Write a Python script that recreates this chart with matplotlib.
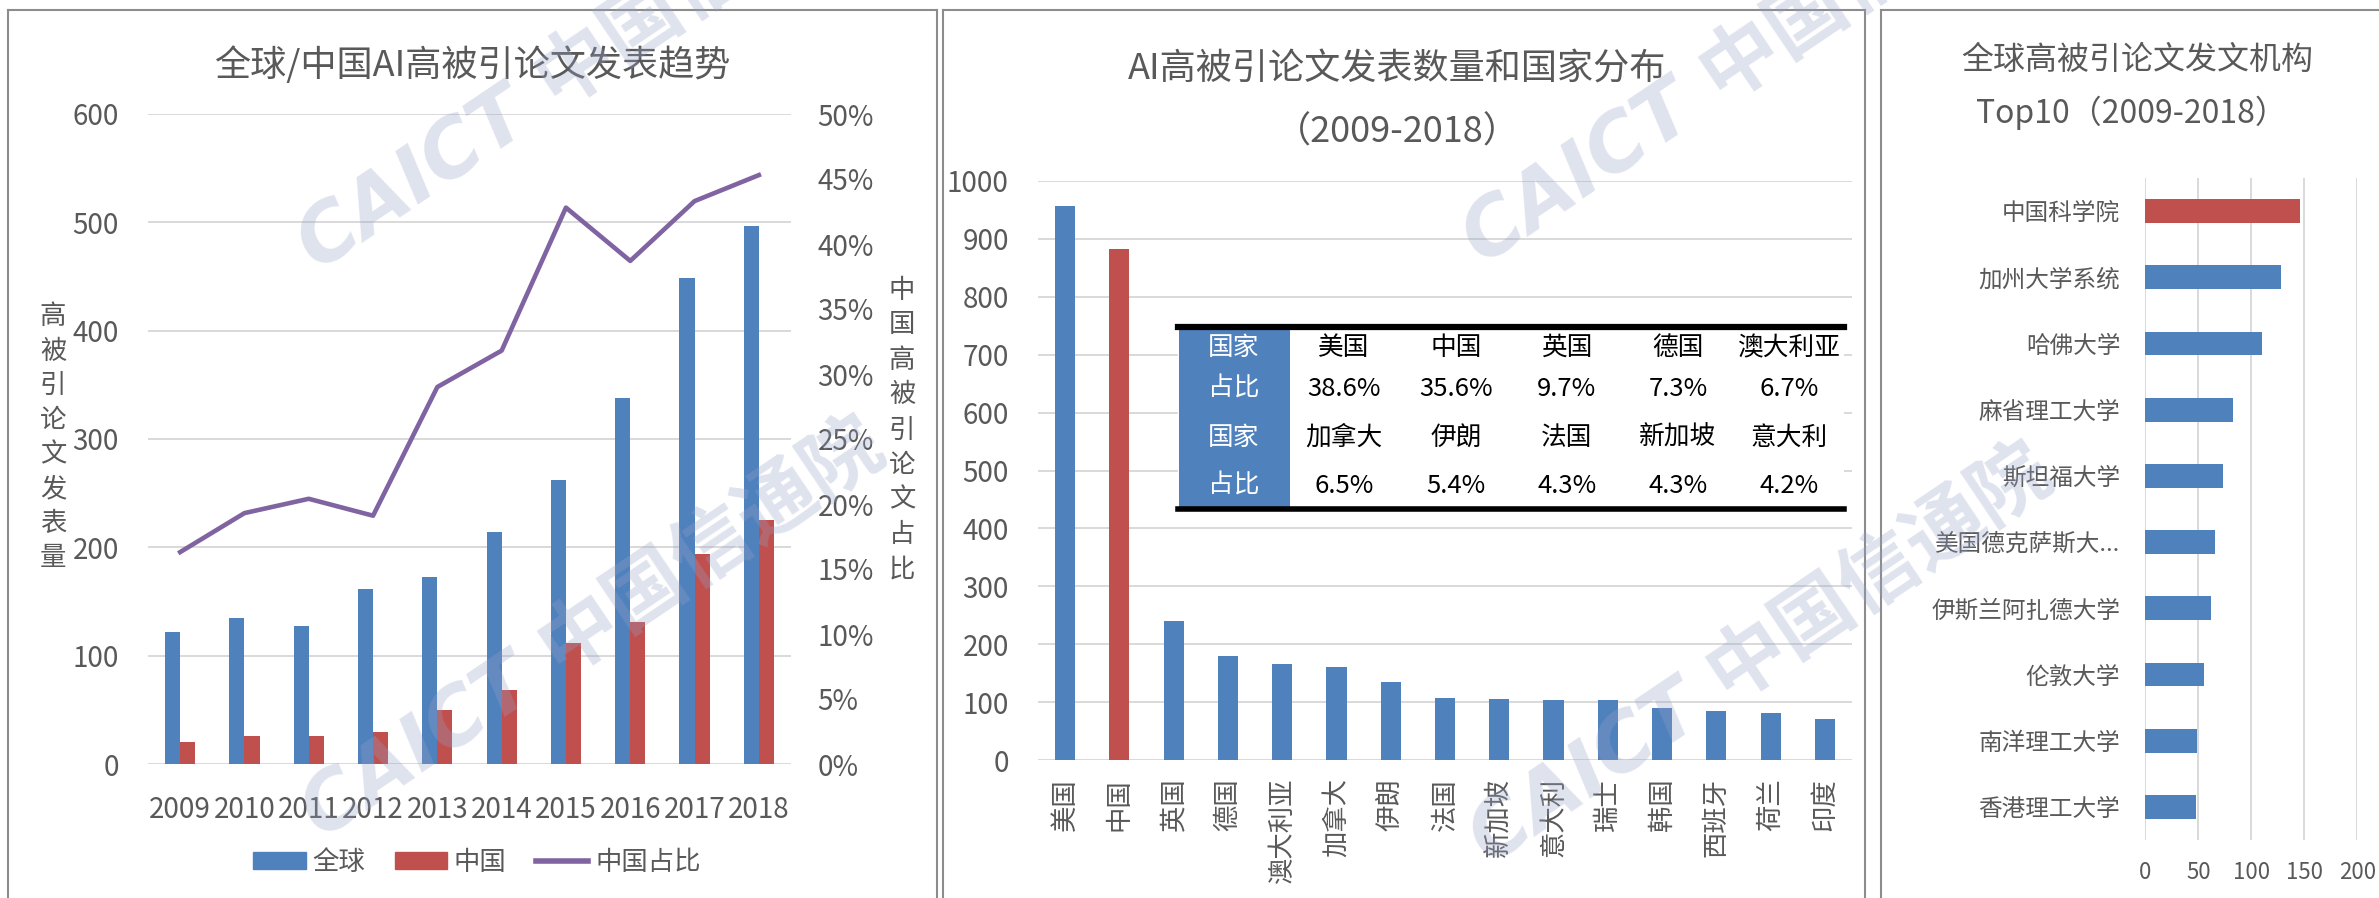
import numpy as np
import matplotlib
matplotlib.use("Agg")
import matplotlib.pyplot as plt
from matplotlib.lines import Line2D
from matplotlib.patches import Rectangle, Patch

plt.rcParams['font.family'] = ['Noto Sans CJK SC', 'DejaVu Sans']

## panel 1: global / china trend
years = ["2009", "2010", "2011", "2012", "2013", "2014", "2015", "2016", "2017", "2018"]
global_counts = [122, 135, 127, 162, 173, 214, 262, 338, 449, 497]
china_counts = [20, 26, 26, 30, 50, 68, 112, 131, 194, 225]
china_share = [0.163, 0.193, 0.204, 0.191, 0.290, 0.318, 0.428, 0.387, 0.433, 0.453]

## panel 2: countries
countries = ["美国", "中国", "英国", "德国", "澳大利亚", "加拿大", "伊朗", "法国",
             "新加坡", "意大利", "瑞士", "韩国", "西班牙", "荷兰", "印度"]
country_counts = [957, 883, 240, 180, 166, 161, 134, 107, 106, 103, 103, 90, 85, 82, 71]
table_countries = ["美国", "中国", "英国", "德国", "澳大利亚",
                   "加拿大", "伊朗", "法国", "新加坡", "意大利"]
table_shares = ["38.6%", "35.6%", "9.7%", "7.3%", "6.7%",
                "6.5%", "5.4%", "4.3%", "4.3%", "4.2%"]

## panel 3: institutions
institutions = ["中国科学院", "加州大学系统", "哈佛大学", "麻省理工大学", "斯坦福大学",
                "美国德克萨斯大...", "伊斯兰阿扎德大学", "伦敦大学", "南洋理工大学", "香港理工大学"]
inst_counts = [146, 128, 110, 83, 73, 66, 62, 55, 49, 48]

BLUE = "#4F81BD"
RED = "#C0504D"
PURPLE = "#8064A2"
GRID = "#D9D9D9"
TXT = "#595959"

W, H = 2379, 898
fig = plt.figure(figsize=(W / 100, H / 100), dpi=100)


def rect(x0, y0, x1, y1):
    # pixel box (top-left origin) -> figure fraction
    return [x0 / W, 1 - y1 / H, (x1 - x0) / W, (y1 - y0) / H]


def fpt(x, y):
    return x / W, 1 - y / H


def clean(ax):
    for s in ax.spines.values():
        s.set_visible(False)
    ax.tick_params(length=0, colors=TXT)


# ---------------- panel 1 ----------------
ax1 = fig.add_axes(rect(148, 114, 791, 764))
clean(ax1)
x = np.arange(len(years))
bw = 0.235
b1 = ax1.bar(x - bw / 2, global_counts, bw, color=BLUE, zorder=2)
b2 = ax1.bar(x + bw / 2, china_counts, bw, color=RED, zorder=2)
ax1.set_xlim(-0.5, len(years) - 0.5)
ax1.set_ylim(0, 600)
ax1.set_yticks(range(0, 601, 100))
ax1.yaxis.grid(True, color=GRID, lw=1.4)
ax1.set_axisbelow(True)
ax1.set_xticks(x)
ax1.set_xticklabels(years)
ax1.tick_params(axis='y', labelsize=20, pad=21)
ax1.tick_params(axis='x', labelsize=20, pad=22)

ax1b = ax1.twinx()
clean(ax1b)
ln, = ax1b.plot(x, china_share, color=PURPLE, lw=3.3, solid_joinstyle='round')
ax1b.set_ylim(0, 0.5)
pt = np.arange(0, 0.501, 0.05)
ax1b.set_yticks(pt)
ax1b.set_yticklabels(["{}%".format(int(round(v * 100))) for v in pt])
ax1b.tick_params(axis='y', labelsize=20, pad=19)

leg = ax1b.legend([Patch(color=BLUE), Patch(color=RED), Line2D([], [], color=PURPLE, lw=4)],
                  ["全球", "中国", "中国占比"], ncol=3, frameon=False, loc='center',
                  bbox_to_anchor=fpt(477, 862), bbox_transform=fig.transFigure,
                  fontsize=19, handlelength=2.0, handleheight=0.6, handletextpad=0.25,
                  columnspacing=1.1)
for t in leg.get_texts():
    t.set_color(TXT)

fig.text(*fpt(472, 65), "全球/中国AI高被引论文发表趋势", fontsize=26, color=TXT,
         ha='center', va='center')
for i, ch in enumerate("高被引论文发表量"):
    fig.text(*fpt(53, 317 + i * 34.4), ch, fontsize=19, color=TXT, ha='center', va='center')
for i, ch in enumerate("中国高被引论文占比"):
    fig.text(*fpt(902, 290 + i * 35), ch, fontsize=19, color=TXT, ha='center', va='center')

# ---------------- panel 2 ----------------
ax2 = fig.add_axes(rect(1038, 181, 1852, 760))
clean(ax2)
x2 = np.arange(len(countries))
colors2 = [RED if c == "中国" else BLUE for c in countries]
ax2.bar(x2, country_counts, 0.37, color=colors2, zorder=2)
ax2.set_xlim(-0.5, len(countries) - 0.5)
ax2.set_ylim(0, 1000)
ax2.set_yticks(range(0, 1001, 100))
ax2.yaxis.grid(True, color=GRID, lw=1.4)
ax2.set_axisbelow(True)
ax2.set_xticks(x2)
ax2.set_xticklabels(countries, rotation=90)
ax2.tick_params(axis='y', labelsize=20, pad=21)
ax2.tick_params(axis='x', labelsize=19, pad=13)

fig.text(*fpt(1397, 70), "AI高被引论文发表数量和国家分布", fontsize=26, color=TXT,
         ha='center', va='center')
fig.text(*fpt(1397, 133), "（2009-2018）", fontsize=26, color=TXT, ha='center', va='center')

# table inside panel 2
fig.add_artist(Rectangle(fpt(1178, 509), 666 / W, 182 / H, transform=fig.transFigure,
                         facecolor='white', edgecolor='none', zorder=4))
fig.add_artist(Rectangle(fpt(1179, 507), 111 / W, 177 / H, transform=fig.transFigure,
                         facecolor=BLUE, edgecolor='none', zorder=4))
fig.add_artist(Line2D([1178 / W, 1844 / W], [1 - 327 / H] * 2, color='black', lw=4.5,
                      transform=fig.transFigure, zorder=5))
fig.add_artist(Line2D([1178 / W, 1844 / W], [1 - 509 / H] * 2, color='black', lw=4,
                      transform=fig.transFigure, zorder=5))
row_y = [348, 389, 438, 486]
col_x = [1344, 1456, 1567, 1678, 1789]
for r in range(4):
    fig.text(*fpt(1234, row_y[r]), "国家" if r % 2 == 0 else "占比", fontsize=18.5,
             color='white', ha='center', va='center', zorder=6)
for k in range(2):
    for j in range(5):
        fig.text(*fpt(col_x[j], row_y[2 * k]), table_countries[5 * k + j], fontsize=18.5,
                 color='black', ha='center', va='center', zorder=6)
        fig.text(*fpt(col_x[j], row_y[2 * k + 1]), table_shares[5 * k + j], fontsize=18.5,
                 color='black', ha='center', va='center', zorder=6)

# ---------------- panel 3 ----------------
ax3 = fig.add_axes(rect(2145.3, 178, 2357.3, 840))
clean(ax3)
y3 = np.arange(len(institutions))
colors3 = [RED if i == 0 else BLUE for i in range(len(institutions))]
ax3.barh(y3, inst_counts, 0.36, color=colors3, zorder=2)
ax3.set_ylim(len(institutions) - 0.5, -0.5)
ax3.set_xlim(0, 200)
ax3.set_xticks(range(0, 201, 50))
ax3.xaxis.grid(True, color=GRID, lw=1.4)
ax3.set_axisbelow(True)
ax3.set_yticks(y3)
ax3.set_yticklabels(institutions)
ax3.tick_params(axis='y', labelsize=17, pad=18)
ax3.tick_params(axis='x', labelsize=16, pad=15)

fig.text(*fpt(2137, 60), "全球高被引论文发文机构", fontsize=23, color=TXT, ha='center', va='center')
fig.text(*fpt(2131, 113), "Top10（2009-2018）", fontsize=23, color=TXT, ha='center', va='center')

# ---------------- panel frames ----------------
frame = dict(color='#8c8c8c', lw=1.5, transform=fig.transFigure, zorder=7)
for x0, x1, right in [(8, 937, True), (943, 1865, True), (1881, 2379, False)]:
    fig.add_artist(Line2D([x0 / W, x0 / W], [1 - 10 / H, 0], **frame))
    fig.add_artist(Line2D([x0 / W, x1 / W], [1 - 10 / H, 1 - 10 / H], **frame))
    if right:
        fig.add_artist(Line2D([x1 / W, x1 / W], [1 - 10 / H, 0], **frame))

# ---------------- watermark ----------------
for wx, wy in [(318, 272), (322, 840), (1483, 266), (1490, 866)]:
    fig.text(*fpt(wx, wy), "CAICT 中国信通院", rotation=34, rotation_mode='anchor',
             ha='left', va='baseline', fontsize=57, fontweight='bold', style='italic',
             family=['DejaVu Sans', 'Noto Sans CJK SC'], color='#96a2c8', alpha=0.3,
             zorder=10)

fig.savefig("out.png", dpi=100)
